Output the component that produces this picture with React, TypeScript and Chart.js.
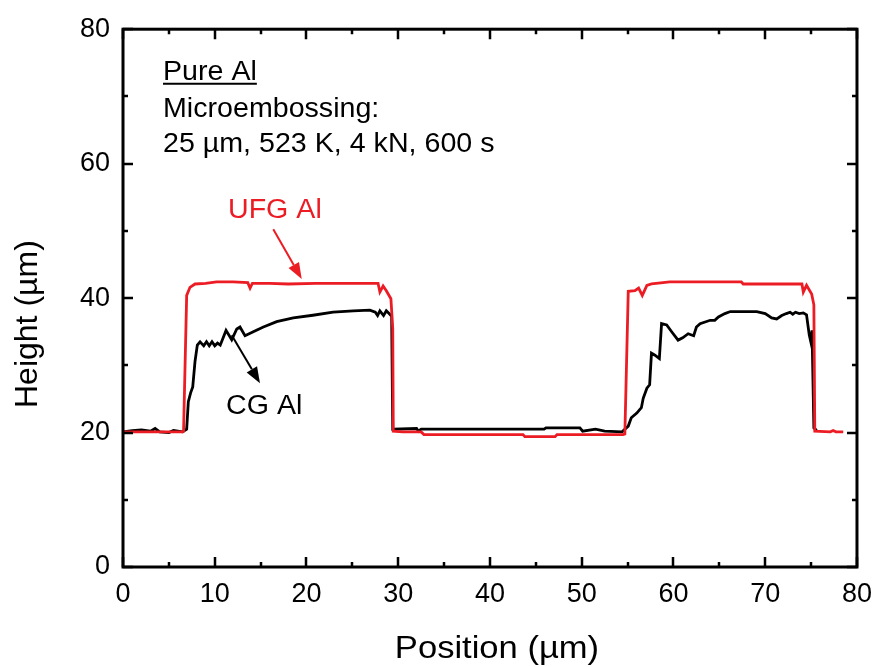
import React, { useEffect, useRef } from 'react';
import { Chart, registerables } from 'chart.js';

Chart.register(...registerables);

// ---------- data ----------
const UFG_X = [0, 2, 4, 6.5, 6.6, 6.94, 7.3, 7.85, 9, 10.2, 12, 13.6, 13.85, 14.1, 16, 18, 21, 24, 27.8, 28.0, 28.35, 28.7, 29.2, 29.4, 29.46, 30.5, 32.5, 32.8, 38, 43.6, 43.8, 47.1, 47.3, 50, 54.5, 54.7, 55.07, 55.8, 56.2, 56.6, 57.1, 57.6, 59.6, 63, 67.4, 67.6, 71, 74.0, 74.15, 74.5, 75.06, 75.3, 75.4, 77.1, 77.4, 77.7, 78.5];
const UFG_Y = [20.1, 20.1, 20.1, 20.1, 20.2, 40.4, 41.6, 42.1, 42.2, 42.4, 42.4, 42.3, 41.5, 42.2, 42.2, 42.1, 42.2, 42.2, 42.2, 40.9, 41.8, 41.1, 39.9, 35.5, 20.2, 20.1, 20.1, 19.7, 19.7, 19.7, 19.4, 19.4, 19.7, 19.7, 19.7, 19.8, 41.0, 41.1, 41.5, 40.4, 41.9, 42.1, 42.4, 42.4, 42.4, 42.1, 42.1, 42.1, 40.9, 41.9, 40.6, 39.0, 20.2, 20.1, 20.3, 20.1, 20.1];

const CG_X = [0, 1, 2, 3, 3.5, 4, 5, 5.5, 6.5, 6.94, 7.12, 7.37, 7.6, 7.85, 8.1, 8.4, 8.8, 9.1, 9.4, 9.7, 10.0, 10.3, 10.6, 11.23, 11.85, 12.4, 12.75, 13.3, 14.2, 15.3, 16.75, 18.56, 20.7, 22.9, 25.1, 26.9, 27.5, 27.75, 28.0, 28.4, 28.7, 29.0, 29.28, 29.4, 32.0, 32.2, 32.5, 35, 40, 45.9, 46.1, 49.8, 50.1, 51.5, 52.5, 54.4, 55.07, 55.4, 56.0, 56.5, 56.7, 57.1, 57.4, 57.6, 57.98, 58.46, 58.7, 59.26, 59.8, 60.5, 61.0, 61.6, 62.2, 62.5, 62.9, 64.0, 64.5, 64.9, 65.6, 66.2, 69.07, 70.0, 70.7, 71.25, 71.8, 72.3, 72.7, 73.0, 73.3, 73.7, 74.15, 74.5, 74.8, 74.95, 75.1, 75.3, 75.6];
const CG_Y = [20.1, 20.3, 20.4, 20.2, 20.6, 20.1, 20.0, 20.3, 20.1, 20.5, 24.6, 25.9, 26.8, 30.6, 33.0, 33.5, 32.9, 33.5, 32.9, 33.5, 32.9, 33.3, 33.0, 35.2, 33.8, 35.4, 35.7, 34.4, 35.0, 35.7, 36.5, 37.05, 37.45, 37.9, 38.1, 38.2, 37.9, 37.4, 38.1, 37.4, 38.1, 37.7, 37.3, 20.5, 20.6, 20.2, 20.5, 20.5, 20.5, 20.5, 20.7, 20.7, 20.2, 20.5, 20.2, 20.1, 20.96, 22.2, 22.9, 23.7, 25.1, 26.6, 27.1, 31.8, 31.5, 31.0, 36.2, 36.0, 35.0, 33.75, 34.1, 34.7, 34.4, 35.7, 36.2, 36.7, 36.7, 37.2, 37.7, 38.0, 38.0, 37.7, 37.05, 36.9, 37.4, 37.7, 37.9, 37.6, 37.9, 37.7, 37.8, 37.5, 34.5, 33.6, 35.2, 20.7, 20.3];

const SERIES_NAMES = ['UFG Al', 'CG Al'];
const SERIES_COLORS = ['#ec1c24', '#000000'];
const X_TITLE = 'Position (µm)';
const Y_TITLE = 'Height (µm)';
const NOTE_LINES = ['Pure Al', 'Microembossing:', '25 µm, 523 K, 4 kN, 600 s'];
const NOTE_POS = { x: 4.36, y: [72.47, 67.01, 61.8] };
// label anchors (data coords): [textX, textBaselineY, arrowStartX, arrowStartY, arrowTipX, arrowTipY]
const UFG_LABEL = [11.44, 51.96, 16.38, 50.23, 19.48, 42.85];
const CG_LABEL = [11.23, 22.69, 11.85, 34.49, 14.93, 27.35];

const FONT = "'Liberation Sans', Arial, Helvetica, sans-serif";

function drawText(ctx: CanvasRenderingContext2D, text: string, x: number, y: number, size: number, color: string, sx = 1) {
  ctx.save();
  ctx.translate(x, y);
  ctx.scale(sx, 1);
  ctx.font = `${size}px ${FONT}`;
  ctx.fillStyle = color;
  ctx.textAlign = 'left';
  ctx.textBaseline = 'alphabetic';
  ctx.fillText(text, 0, 0);
  const w = ctx.measureText(text).width * sx;
  ctx.restore();
  return w;
}

function drawArrow(ctx: CanvasRenderingContext2D, x0: number, y0: number, x1: number, y1: number, color: string) {
  const ang = Math.atan2(y1 - y0, x1 - x0);
  const hl = 16;
  const hw = 6;
  const bx = x1 - hl * Math.cos(ang);
  const by = y1 - hl * Math.sin(ang);
  ctx.save();
  ctx.strokeStyle = color;
  ctx.fillStyle = color;
  ctx.lineWidth = 2;
  ctx.beginPath();
  ctx.moveTo(x0, y0);
  ctx.lineTo(bx, by);
  ctx.stroke();
  ctx.beginPath();
  ctx.moveTo(x1, y1);
  ctx.lineTo(bx + hw * Math.sin(ang), by - hw * Math.cos(ang));
  ctx.lineTo(bx - hw * Math.sin(ang), by + hw * Math.cos(ang));
  ctx.closePath();
  ctx.fill();
  ctx.restore();
}

const framePlugin = {
  id: 'frameTicksNotes',
  afterDatasetsDraw(chart: any) {
    const { ctx, chartArea: a, scales } = chart;
    const xs = scales.x;
    const ys = scales.y;
    ctx.save();
    ctx.strokeStyle = '#000';
    ctx.lineWidth = 2.5;
    ctx.beginPath();
    for (let v = 0; v <= 80; v += 5) {
      const px = Math.round(xs.getPixelForValue(v));
      const len = v % 10 === 0 ? 10 : 5;
      ctx.moveTo(px, a.bottom);
      ctx.lineTo(px, a.bottom - len);
      ctx.moveTo(px, a.top);
      ctx.lineTo(px, a.top + len);
    }
    for (let v = 0; v <= 80; v += 10) {
      const py = Math.round(ys.getPixelForValue(v));
      const len = v % 20 === 0 ? 10 : 5;
      ctx.moveTo(a.left, py);
      ctx.lineTo(a.left + len, py);
      ctx.moveTo(a.right, py);
      ctx.lineTo(a.right - len, py);
    }
    ctx.stroke();
    ctx.lineWidth = 3;
    ctx.strokeRect(a.left, a.top, a.right - a.left, a.bottom - a.top);
    ctx.restore();

    // note text block
    const nx = xs.getPixelForValue(NOTE_POS.x);
    NOTE_LINES.forEach((t, i) => {
      const ny = ys.getPixelForValue(NOTE_POS.y[i]);
      const w = drawText(ctx, t, nx, ny, 27, '#000', 1.06);
      if (i === 0) {
        ctx.save();
        ctx.strokeStyle = '#000';
        ctx.lineWidth = 2;
        ctx.beginPath();
        ctx.moveTo(nx, ny + 4);
        ctx.lineTo(nx + w, ny + 4);
        ctx.stroke();
        ctx.restore();
      }
    });

    // series labels with arrows
    const labels = [UFG_LABEL, CG_LABEL];
    labels.forEach((L, i) => {
      const c = SERIES_COLORS[i];
      drawText(ctx, SERIES_NAMES[i], xs.getPixelForValue(L[0]), ys.getPixelForValue(L[1]), 27, c, 1.06);
      drawArrow(ctx, xs.getPixelForValue(L[2]), ys.getPixelForValue(L[3]), xs.getPixelForValue(L[4]), ys.getPixelForValue(L[5]), c);
    });

    // axis titles
    ctx.save();
    ctx.fillStyle = '#000';
    ctx.font = `32px ${FONT}`;
    ctx.textBaseline = 'alphabetic';
    ctx.textAlign = 'center';
    ctx.save();
    ctx.translate((a.left + a.right) / 2 + 7, a.bottom + 91);
    ctx.scale(1.08, 1);
    ctx.fillText(X_TITLE, 0, 0);
    ctx.restore();
    ctx.save();
    ctx.translate(37, (a.top + a.bottom) / 2 + 26);
    ctx.rotate(-Math.PI / 2);
    ctx.fillText(Y_TITLE, 0, 0);
    ctx.restore();
    ctx.restore();
  },
};

function toPoints(xs: number[], ys: number[]) {
  return xs.map((x, i) => ({ x, y: ys[i] }));
}

export default function App() {
  const ref = useRef<HTMLCanvasElement | null>(null);
  useEffect(() => {
    const canvas = ref.current;
    if (!canvas) return;
    const chart = new Chart(canvas, {
      type: 'line',
      data: {
        datasets: [
          {
            label: SERIES_NAMES[0],
            data: toPoints(UFG_X, UFG_Y),
            borderColor: SERIES_COLORS[0],
            backgroundColor: SERIES_COLORS[0],
            borderWidth: 2.8,
            pointRadius: 0,
            tension: 0,
            fill: false,
          },
          {
            label: SERIES_NAMES[1],
            data: toPoints(CG_X, CG_Y),
            borderColor: SERIES_COLORS[1],
            backgroundColor: SERIES_COLORS[1],
            borderWidth: 2.8,
            pointRadius: 0,
            tension: 0,
            fill: false,
          },
        ],
      },
      options: {
        responsive: false,
        animation: false,
        events: [],
        layout: { padding: { left: 0, right: 26, top: 25, bottom: 0 } },
        plugins: {
          legend: { display: false },
          tooltip: { enabled: false },
          title: { display: false },
        },
        scales: {
          x: {
            type: 'linear',
            min: 0,
            max: 80,
            grid: { display: false, drawTicks: false },
            border: { display: false },
            ticks: {
              stepSize: 10,
              padding: 11,
              color: '#000',
              font: { family: FONT, size: 27 },
              maxRotation: 0,
            },
            afterFit: (s: any) => {
              s.height = 100;
            },
          },
          y: {
            type: 'linear',
            min: 0,
            max: 80,
            grid: { display: false, drawTicks: false },
            border: { display: false },
            ticks: {
              stepSize: 20,
              padding: 13,
              color: '#000',
              font: { family: FONT, size: 27 },
            },
            afterFit: (s: any) => {
              s.width = 123;
            },
          },
        },
      },
      plugins: [framePlugin],
    } as any);
    return () => chart.destroy();
  }, []);

  return (
    <div style={{ position: 'absolute', left: 0, top: 0, width: 883, height: 667, background: '#fff' }}>
      <canvas ref={ref} width={883} height={667} style={{ display: 'block', width: 883, height: 667 }} />
    </div>
  );
}
